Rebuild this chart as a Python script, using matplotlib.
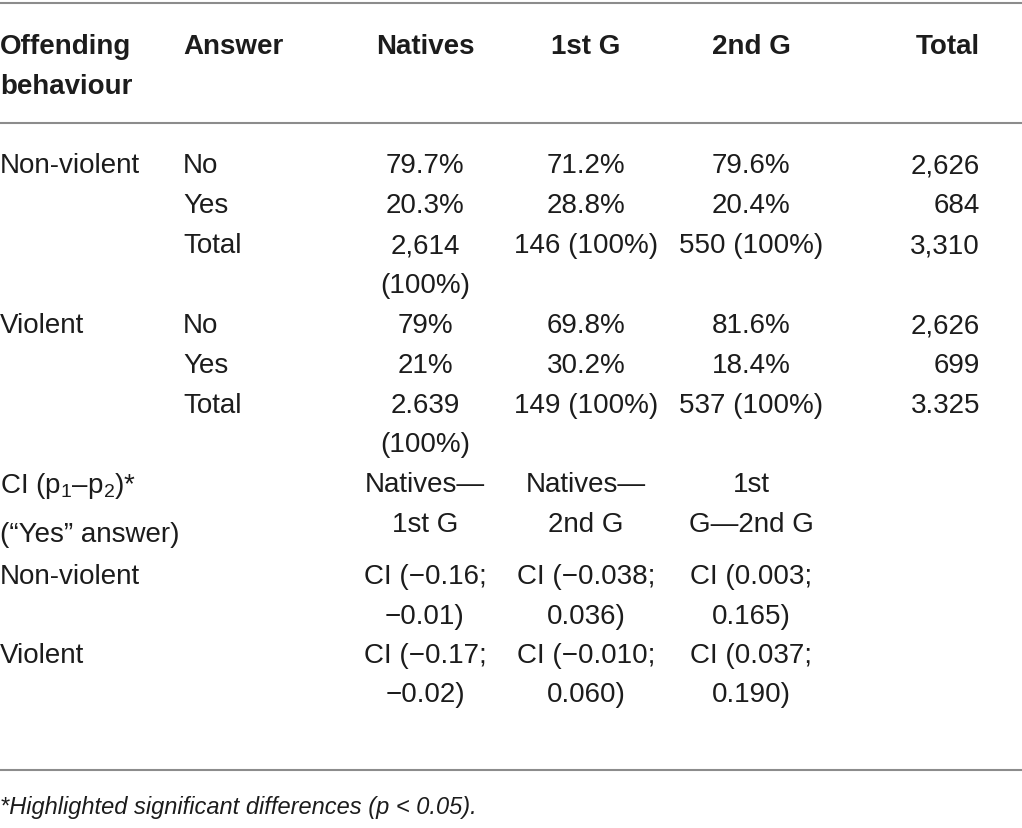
import matplotlib
matplotlib.use("Agg")
import matplotlib.pyplot as plt

# table content
header = ["Offending\nbehaviour", "Answer", "Natives", "1st G", "2nd G", "Total"]
offences = ["Non-violent", "Violent"]
answers = ["No", "Yes", "Total"]

nonviolent_no = ["79.7%", "71.2%", "79.6%", "2,626"]
nonviolent_yes = ["20.3%", "28.8%", "20.4%", "684"]
nonviolent_total = ["2,614\n(100%)", "146 (100%)", "550 (100%)", "3,310"]

violent_no = ["79%", "69.8%", "81.6%", "2,626"]
violent_yes = ["21%", "30.2%", "18.4%", "699"]
violent_total = ["2.639\n(100%)", "149 (100%)", "537 (100%)", "3.325"]

ci_label = r"CI (p$_\mathrm{1}$–p$_\mathrm{2}$)*"
ci_label2 = "(\u201cYes\u201d answer)"
ci_pairs = ["Natives\u2014\n1st G", "Natives\u2014\n2nd G", "1st\nG\u20142nd G"]
ci_nonviolent = ["CI (\u22120.16;\n\u22120.01)", "CI (\u22120.038;\n0.036)", "CI (0.003;\n0.165)"]
ci_violent = ["CI (\u22120.17;\n\u22120.02)", "CI (\u22120.010;\n0.060)", "CI (0.037;\n0.190)"]

footnote = "*Highlighted significant differences (p < 0.05)."

plt.rcParams['font.family'] = ['Liberation Sans', 'DejaVu Sans']
plt.rcParams['mathtext.fontset'] = 'custom'
plt.rcParams['mathtext.rm'] = 'Liberation Sans'
plt.rcParams['mathtext.it'] = 'Liberation Sans:italic'

FS = 20
TXT = '#1c1c1c'
LINE = '#8c8c8c'

fig = plt.figure(figsize=(10.22, 8.29), dpi=100)
ax = fig.add_axes([0, 0, 1, 1])
ax.set_xlim(0, 1022)
ax.set_ylim(829, 0)
ax.axis('off')

# column anchors (x, ha)
cols = [(0, 'left'), (183, 'left'), (425, 'center'), (586, 'center'),
        (751, 'center'), (980, 'right')]
step = 39.5


def cell(text, col, y, **kw):
    x, ha = cols[col]
    for i, line in enumerate(text.split("\n")):
        ax.text(x, y + i * step, line, ha=ha, va='center_baseline',
                fontsize=FS, color=TXT, **kw)


# rules
for y in (4, 124, 771):
    ax.axhline(y, color=LINE, lw=1.5)

# header
for j, h in enumerate(header):
    cell(h, j, 44, fontweight='bold')

# frequency blocks
blocks = [(nonviolent_no, nonviolent_yes, nonviolent_total),
          (violent_no, violent_yes, violent_total)]
y0 = 163
for name, rows in zip(offences, blocks):
    cell(name, 0, y0)
    ys = [y0, y0 + 40, y0 + 80]
    for ans, vals, y in zip(answers, rows, ys):
        cell(ans, 1, y)
        for k, v in enumerate(vals):
            cell(v, k + 2, y)
    y0 += 160

# confidence intervals
cell(ci_label, 0, 482)
cell(ci_label2, 0, 532)
for k, p in enumerate(ci_pairs):
    cell(p, k + 2, 482)

cell(offences[0], 0, 574)
for k, v in enumerate(ci_nonviolent):
    cell(v, k + 2, 574)
cell(offences[1], 0, 653)
for k, v in enumerate(ci_violent):
    cell(v, k + 2, 653)

ax.text(0, 805, footnote, ha='left', va='center_baseline', fontsize=17,
        style='italic', color=TXT)

fig.savefig("out.png", dpi=100)
